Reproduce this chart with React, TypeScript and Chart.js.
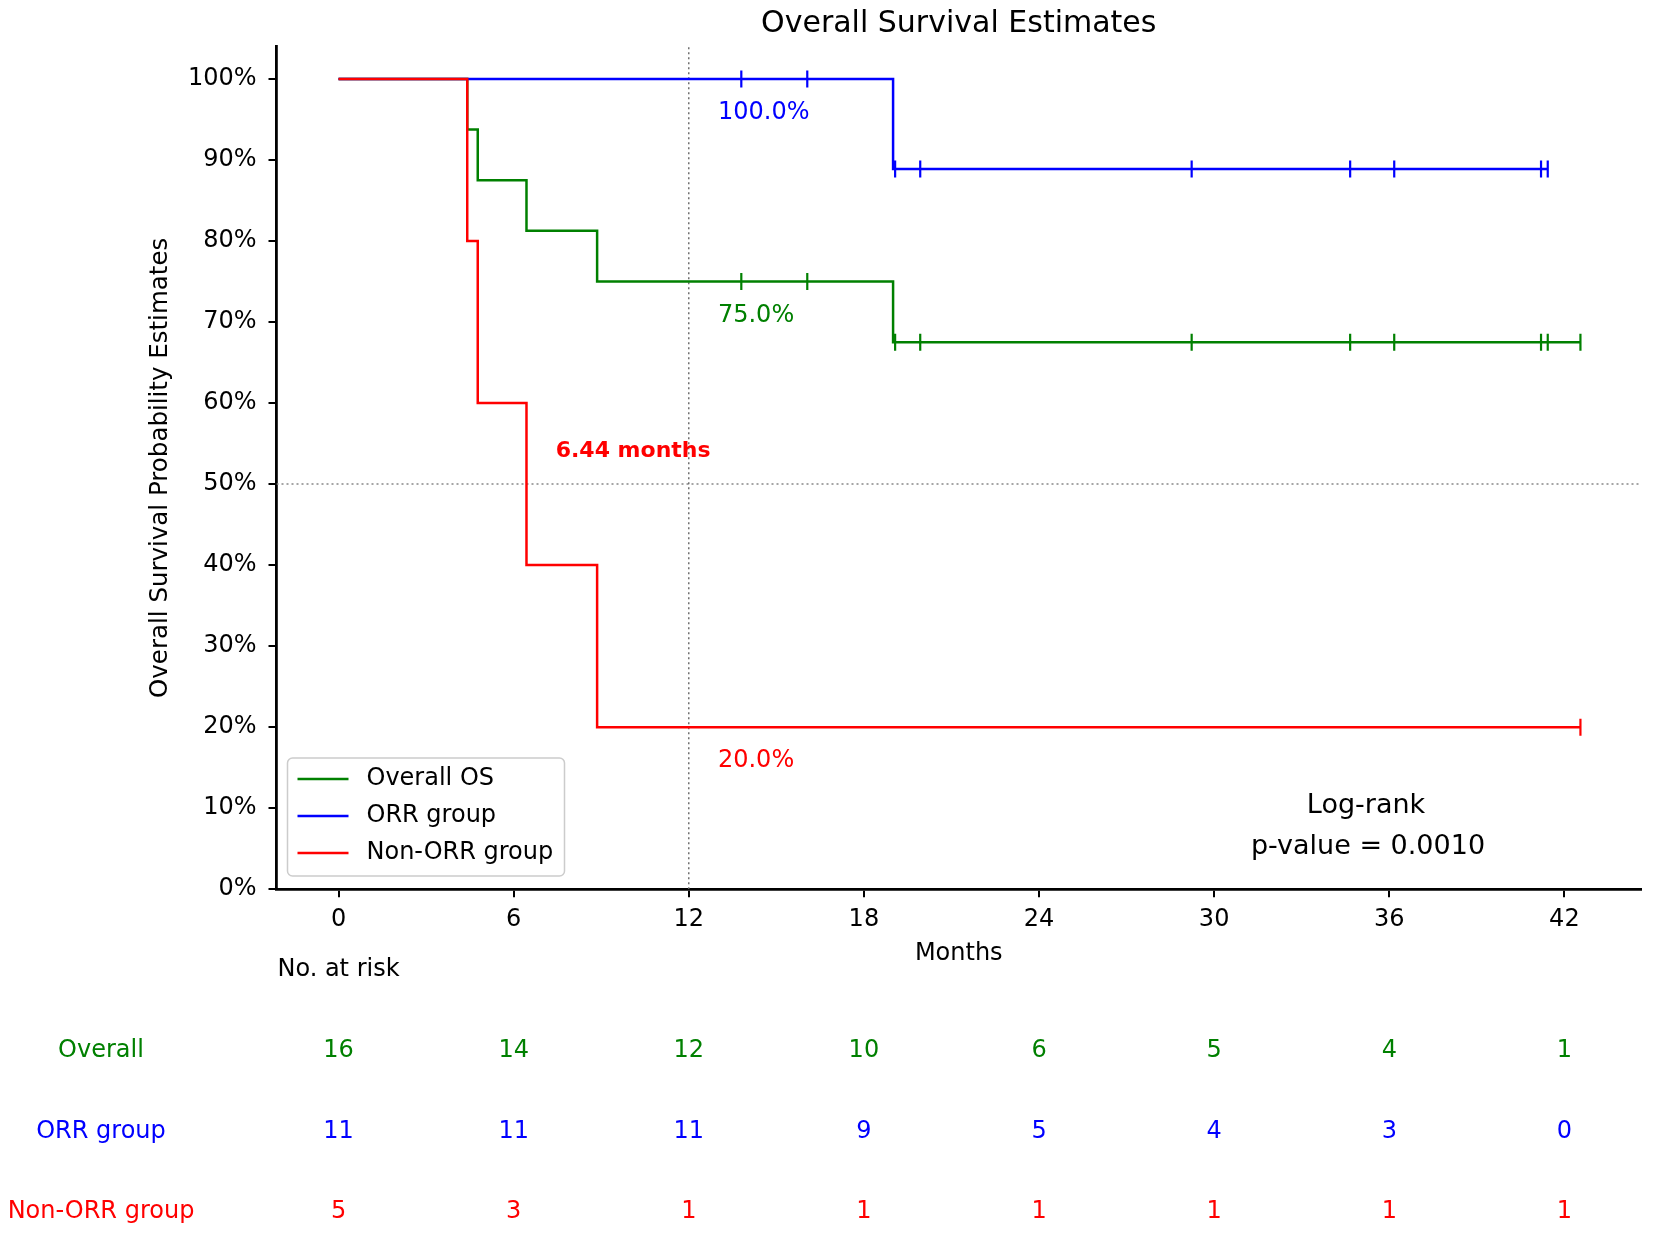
import React, { useEffect, useRef } from 'react';
import { Chart, registerables } from 'chart.js';

Chart.register(...registerables);

// axis ticks
const xTicks = [0, 6, 12, 18, 24, 30, 36, 42];
const yTicks = [0, 0.1, 0.2, 0.3, 0.4, 0.5, 0.6, 0.7, 0.8, 0.9, 1.0];

// Kaplan-Meier steps: time (months) and survival right after that time
const overallTimes = [0, 4.41, 4.77, 6.44, 8.86, 19.0, 42.55];
const overallSurv = [1, 0.9375, 0.875, 0.8125, 0.75, 0.675, 0.675];
const orrTimes = [0, 19.0, 41.43];
const orrSurv = [1, 0.8889, 0.8889];
const nonOrrTimes = [0, 4.41, 4.77, 6.44, 8.86, 42.55];
const nonOrrSurv = [1, 0.8, 0.6, 0.4, 0.2, 0.2];

// censored observations (months)
const overallCensor = [13.8, 16.06, 19.07, 19.93, 29.23, 34.66, 36.17, 41.2, 41.43, 42.55];
const orrCensor = [13.8, 16.06, 19.07, 19.93, 29.23, 34.66, 36.17, 41.2, 41.43];
const nonOrrCensor = [42.55];

// number at risk at each x tick
const riskLabels = ['Overall', 'ORR group', 'Non-ORR group'];
const overallRisk = [16, 14, 12, 10, 6, 5, 4, 1];
const orrRisk = [11, 11, 11, 9, 5, 4, 3, 0];
const nonOrrRisk = [5, 3, 1, 1, 1, 1, 1, 1];

const legendLabels = ['Overall OS', 'ORR group', 'Non-ORR group'];
const GREEN = '#008000';
const BLUE = '#0000ff';
const RED = '#ff0000';
const FONT = '"DejaVu Sans", sans-serif';

const survAt = (times: number[], surv: number[], t: number) => {
  let s = surv[0];
  times.forEach((tt, i) => {
    if (tt <= t) s = surv[i];
  });
  return s;
};

const steps = (times: number[], surv: number[]) => times.map((t, i) => ({ x: t, y: surv[i] }));
const censors = (c: number[], times: number[], surv: number[]) =>
  c.map((t) => ({ x: t, y: survAt(times, surv, t) }));

const overlay = {
  id: 'overlay',
  afterDraw(chart: any) {
    const { ctx, chartArea, scales } = chart;
    const xs = scales.x;
    const ys = scales.y;
    ctx.save();
    ctx.textBaseline = 'middle';

    // title
    ctx.fillStyle = '#000';
    ctx.font = `30px ${FONT}`;
    ctx.textAlign = 'center';
    ctx.fillText('Overall Survival Estimates', (chartArea.left + chartArea.right) / 2, 24);

    // axis titles
    ctx.font = `24px ${FONT}`;
    ctx.fillText('Months', (chartArea.left + chartArea.right) / 2, 954);
    ctx.save();
    ctx.translate(161, (chartArea.top + chartArea.bottom) / 2);
    ctx.rotate(-Math.PI / 2);
    ctx.font = `24.5px ${FONT}`;
    ctx.fillText('Overall Survival Probability Estimates', 0, 0);
    ctx.restore();

    // survival annotations at 12 months
    ctx.textAlign = 'left';
    ctx.font = `24px ${FONT}`;
    ctx.fillStyle = BLUE;
    ctx.fillText('100.0%', xs.getPixelForValue(13), ys.getPixelForValue(0.958));
    ctx.fillStyle = GREEN;
    ctx.fillText('75.0%', xs.getPixelForValue(13), ys.getPixelForValue(0.708));
    ctx.fillStyle = RED;
    ctx.fillText('20.0%', xs.getPixelForValue(13), ys.getPixelForValue(0.158));
    ctx.font = `bold 22px ${FONT}`;
    ctx.fillText('6.44 months', xs.getPixelForValue(7.44), ys.getPixelForValue(0.54));

    // log-rank
    ctx.font = `27px ${FONT}`;
    ctx.fillStyle = '#000';
    ctx.textAlign = 'center';
    ctx.fillText('Log-rank', 1366, 806);
    ctx.fillText('p-value = 0.0010', 1368, 847);

    // legend
    ctx.font = `24px ${FONT}`;
    const lx = chartArea.left + 11;
    const ly = 758;
    ctx.beginPath();
    ctx.roundRect(lx, ly, 277, 118, 5);
    ctx.fillStyle = 'rgba(255,255,255,0.8)';
    ctx.fill();
    ctx.strokeStyle = '#cccccc';
    ctx.lineWidth = 1.5;
    ctx.stroke();
    [GREEN, BLUE, RED].forEach((c, i) => {
      const yy = 779 + i * 37;
      ctx.beginPath();
      ctx.moveTo(lx + 10, yy);
      ctx.lineTo(lx + 61, yy);
      ctx.strokeStyle = c;
      ctx.lineWidth = 2.5;
      ctx.stroke();
      ctx.fillStyle = '#000';
      ctx.textAlign = 'left';
      ctx.fillText(legendLabels[i], lx + 79, yy);
    });

    // number at risk table
    ctx.textAlign = 'center';
    ctx.fillStyle = '#000';
    ctx.fillText('No. at risk', xs.getPixelForValue(0), 970);
    const rows = [overallRisk, orrRisk, nonOrrRisk];
    const colors = [GREEN, BLUE, RED];
    const rowY = [1051, 1132, 1212];
    rows.forEach((r, i) => {
      ctx.fillStyle = colors[i];
      ctx.fillText(riskLabels[i], 101, rowY[i]);
      r.forEach((v, j) => ctx.fillText(String(v), xs.getPixelForValue(xTicks[j]), rowY[i]));
    });
    ctx.restore();
  },
};

const App: React.FC = () => {
  const chartRef = useRef<HTMLCanvasElement>(null);
  const chartInstance = useRef<Chart | null>(null);

  useEffect(() => {
    document.body.style.margin = '0';
    if (!chartRef.current) return;
    const ctx = chartRef.current.getContext('2d');
    if (!ctx) return;

    const censorStyle = (color: string) => ({
      showLine: false,
      pointStyle: 'line',
      rotation: 90,
      pointRadius: 8.5,
      pointBorderWidth: 2.2,
      borderColor: color,
      backgroundColor: color,
    });
    const curveStyle = (color: string) => ({
      stepped: 'before',
      borderColor: color,
      borderWidth: 2.5,
      pointRadius: 0,
      fill: false,
    });

    chartInstance.current = new Chart(ctx, {
      type: 'line',
      data: {
        datasets: [
          { label: 'Non-ORR group', data: steps(nonOrrTimes, nonOrrSurv), ...curveStyle(RED), order: 0 },
          { label: 'Non-ORR censor', data: censors(nonOrrCensor, nonOrrTimes, nonOrrSurv), ...censorStyle(RED), order: 0 },
          { label: 'ORR group', data: steps(orrTimes, orrSurv), ...curveStyle(BLUE), order: 1 },
          { label: 'ORR censor', data: censors(orrCensor, orrTimes, orrSurv), ...censorStyle(BLUE), order: 1 },
          { label: 'Overall OS', data: steps(overallTimes, overallSurv), ...curveStyle(GREEN), order: 2 },
          { label: 'Overall censor', data: censors(overallCensor, overallTimes, overallSurv), ...censorStyle(GREEN), order: 2 },
          {
            label: 'ref12',
            data: [{ x: 12, y: 0 }, { x: 12, y: 1.04 }],
            borderColor: '#666',
            borderWidth: 1.4,
            borderDash: [2, 3],
            pointRadius: 0,
            order: 5,
          },
          {
            label: 'ref50',
            data: [{ x: -2.125, y: 0.5 }, { x: 44.625, y: 0.5 }],
            borderColor: '#888',
            borderWidth: 1.4,
            borderDash: [2, 3],
            pointRadius: 0,
            order: 5,
          },
        ] as any,
      },
      options: {
        responsive: true,
        maintainAspectRatio: false,
        animation: false,
        devicePixelRatio: 1,
        layout: { padding: { top: 46.5, right: 13, left: 0, bottom: 0 } },
        plugins: {
          legend: { display: false },
          title: { display: false },
          tooltip: { enabled: false },
        },
        scales: {
          x: {
            type: 'linear',
            min: -2.125,
            max: 44.625,
            afterFit: (s: any) => {
              s.height = 1235 - 889.2;
            },
            afterBuildTicks: (s: any) => {
              s.ticks = xTicks.map((v) => ({ value: v }));
            },
            ticks: {
              color: '#000',
              font: { family: FONT, size: 24 },
              padding: 8,
              maxRotation: 0,
              autoSkip: false,
            },
            grid: {
              drawOnChartArea: false,
              drawTicks: true,
              tickLength: 8,
              color: '#000',
              lineWidth: 2,
            },
            border: { display: true, color: '#000', width: 2.8 },
          },
          y: {
            type: 'linear',
            min: 0,
            max: 1.04,
            afterFit: (s: any) => {
              s.width = 276.5;
            },
            afterBuildTicks: (s: any) => {
              s.ticks = yTicks.map((v) => ({ value: v }));
            },
            ticks: {
              color: '#000',
              font: { family: FONT, size: 24 },
              padding: 12,
              autoSkip: false,
              callback: (v: any) => `${Math.round(Number(v) * 100)}%`,
            },
            grid: {
              drawOnChartArea: false,
              drawTicks: true,
              tickLength: 8,
              color: '#000',
              lineWidth: 2,
            },
            border: { display: true, color: '#000', width: 2.8 },
          },
        },
      },
      plugins: [overlay],
    });

    return () => {
      if (chartInstance.current) {
        chartInstance.current.destroy();
        chartInstance.current = null;
      }
    };
  }, []);

  return (
    <div style={{ position: 'relative', width: '1654px', height: '1235px', background: '#fff' }}>
      <canvas ref={chartRef} />
    </div>
  );
};

export default App;
